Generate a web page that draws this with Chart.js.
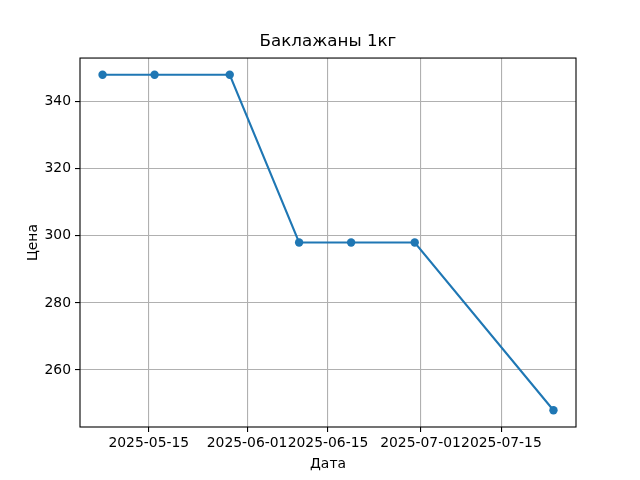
<!DOCTYPE html>
<html lang="ru">
<head>
  <meta charset="UTF-8">
  <title>Баклажаны 1кг</title>
  <script src="https://cdn.jsdelivr.net/npm/chart.js"></script>
  <style>
    body { margin: 0; background: #fff; }
    #chart { display: block; }
  </style>
</head>
<body>
  <canvas id="chart" width="640" height="480"></canvas>

  <script>
    // data
    const dates = ['2025-05-07', '2025-05-16', '2025-05-29', '2025-06-10', '2025-06-19', '2025-06-30', '2025-07-24'];
    const prices = [348, 348, 348, 298, 298, 298, 248];
    const xTickLabels = ['2025-05-15', '2025-06-01', '2025-06-15', '2025-07-01', '2025-07-15'];
    const yTicks = [260, 280, 300, 320, 340];

    const FONT = 'DejaVu Sans';

    // dates -> day numbers, so a plain linear scale can be used
    function toDay(s) {
      const p = s.split('-').map(Number);
      return Date.UTC(p[0], p[1] - 1, p[2]) / 86400000;
    }
    function fromDay(d) {
      return new Date(Math.round(d) * 86400000).toISOString().slice(0, 10);
    }

    const points = dates.map((d, i) => ({ x: toDay(d), y: prices[i] }));
    const xTicks = xTickLabels.map(toDay);

    // matplotlib-like 5% margins
    const xs = points.map(p => p.x);
    const xMinD = Math.min(...xs), xMaxD = Math.max(...xs);
    const xPad = (xMaxD - xMinD) * 0.05;
    const yMinD = Math.min(...prices), yMaxD = Math.max(...prices);
    const yPad = (yMaxD - yMinD) * 0.05;

    // box around the plot area (all four spines)
    const frame = {
      id: 'frame',
      afterDatasetsDraw(chart) {
        const a = chart.chartArea, ctx = chart.ctx;
        ctx.save();
        ctx.strokeStyle = '#000';
        ctx.lineWidth = 1.1;
        ctx.strokeRect(a.left, a.top, a.right - a.left, a.bottom - a.top);
        ctx.restore();
      }
    };

    new Chart(document.getElementById('chart'), {
      type: 'line',
      data: {
        datasets: [{
          data: points,
          borderColor: '#1f77b4',
          backgroundColor: '#1f77b4',
          borderWidth: 2.1,
          pointRadius: 4.2,
          pointHoverRadius: 4.2,
          pointBorderWidth: 0,
          tension: 0,
          fill: false
        }]
      },
      options: {
        responsive: false,
        animation: false,
        devicePixelRatio: 1,
        layout: { padding: { left: 0, right: 64, top: 0, bottom: 0 } },
        plugins: {
          legend: { display: false },
          tooltip: { enabled: false },
          title: {
            display: true,
            fullSize: false, // center over the plot area, like matplotlib
            text: 'Баклажаны 1кг',
            color: '#000',
            font: { family: FONT, size: 16.7, weight: 'normal', lineHeight: 1.2 },
            padding: { top: 32, bottom: 6 }
          }
        },
        scales: {
          x: {
            type: 'linear',
            min: xMinD - xPad,
            max: xMaxD + xPad,
            afterBuildTicks: (scale) => { scale.ticks = xTicks.map(v => ({ value: v })); },
            afterFit: (scale) => { scale.height = 53; },
            ticks: {
              callback: (v) => fromDay(v),
              color: '#000',
              font: { family: FONT, size: 13.9 },
              padding: 3,
              maxRotation: 0,
              autoSkip: false
            },
            grid: { color: '#b0b0b0', lineWidth: 1.1, tickColor: '#000', tickLength: 5, tickWidth: 1.1 },
            border: { display: false },
            title: {
              display: true,
              text: 'Дата',
              color: '#000',
              font: { family: FONT, size: 13.9, lineHeight: 1.2 },
              padding: { top: 0, bottom: 7 }
            }
          },
          y: {
            type: 'linear',
            min: yMinD - yPad,
            max: yMaxD + yPad,
            afterBuildTicks: (scale) => { scale.ticks = yTicks.map(v => ({ value: v })); },
            afterFit: (scale) => { scale.width = 80; },
            ticks: {
              color: '#000',
              font: { family: FONT, size: 13.9 },
              padding: 4
            },
            grid: { color: '#b0b0b0', lineWidth: 1.1, tickColor: '#000', tickLength: 5, tickWidth: 1.1 },
            border: { display: false },
            title: {
              display: true,
              text: 'Цена',
              color: '#000',
              font: { family: FONT, size: 13.9, lineHeight: 1.2 },
              padding: { top: 25, bottom: 0 }
            }
          }
        }
      },
      plugins: [frame]
    });
  </script>
</body>
</html>
